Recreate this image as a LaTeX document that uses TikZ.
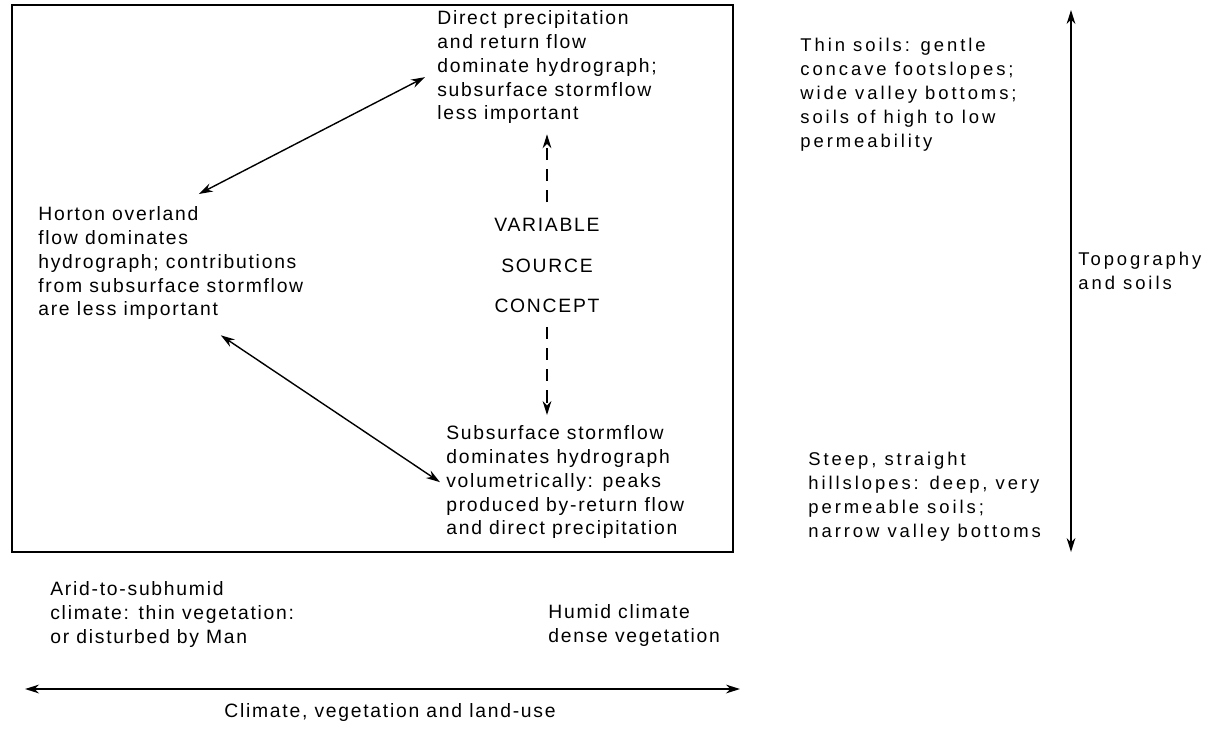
\documentclass[tikz,border=0pt]{standalone}
\usepackage{fontspec}
\setmainfont{Liberation Sans}
\newfontfamily\spreadfont[LetterSpace=9]{Liberation Sans}
\newfontfamily\wideletters[LetterSpace=16]{Liberation Sans}
\usepackage{tikz}
\usetikzlibrary{arrows.meta, calc}
\newcommand{\blurb}[5]{%
  \node[#1] (#2) at (#3, #4) {#5};%
}
\tikzset{
  boxtext/.style={anchor=north west, inner sep=0pt, align=left,
    font=\spreadfont\fontsize{11}{13.6}\selectfont},
  sidetext/.style={anchor=north west, inner sep=0pt, align=left,
    font=\wideletters\fontsize{10.5}{13.6}\selectfont},
  twoway/.style={{Stealth[length=8pt,width=5pt]}-{Stealth[length=8pt,width=5pt]},
    line width=0.8pt},
  dasharrow/.style={-{Stealth[length=8pt,width=5pt]}, line width=0.7pt,
    dash pattern=on 7pt off 5pt}
}

\begin{document}
\begin{tikzpicture}[x=0.02cm, y=-0.02cm]
\useasboundingbox (0,0) rectangle (1226,728);

% --- FRAME ---
\draw[line width=1.1pt] (12,5) rectangle (733,552);

% --- TEXT INSIDE THE FRAME ---
\blurb{boxtext}{direct}{437}{10}{Direct precipitation\\and return flow\\dominate hydrograph;\\subsurface stormflow\\less important}
\blurb{boxtext}{horton}{38}{206}{Horton overland\\flow dominates\\hydrograph; contributions\\from subsurface stormflow\\are less important}
\blurb{boxtext}{subsurf}{446}{425}{Subsurface stormflow\\dominates hydrograph\\volumetrically: peaks\\produced by-return flow\\and direct precipitation}

\foreach \nm/\yy/\word in {var/225/VARIABLE, src/266/SOURCE, con/306/CONCEPT}{
  \node[font=\spreadfont\fontsize{11}{13}\selectfont, inner sep=1pt]
    (\nm) at (547,\yy) {\word};
}

% --- CONNECTORS ---
\draw[twoway] ([xshift=0.56cm, yshift=0.24cm]horton.north)
  -- ([xshift=-0.24cm, yshift=-0.2cm]direct.west);
\draw[twoway] ([xshift=1.0cm, yshift=-0.3cm]horton.south)
  -- ([xshift=-0.12cm]subsurf.west);
\draw[dasharrow, shorten <=0.28cm, shorten >=0.2cm]
  (var.north) -- (var.north |- direct.south);
\draw[dasharrow, shorten <=0.24cm, shorten >=0.2cm]
  (con.south) -- (con.south |- subsurf.north);

% --- TOPOGRAPHY AXIS (right) ---
\blurb{sidetext}{thin}{800}{38}{Thin soils: gentle\\concave footslopes;\\wide valley bottoms;\\soils of high to low\\permeability}
\blurb{sidetext}{steep}{808}{452}{Steep, straight\\hillslopes: deep, very\\permeable soils;\\narrow valley bottoms}
\blurb{sidetext}{topo}{1078}{252}{Topography\\and soils}
\coordinate (vtop) at (1071,10);
\coordinate (vbot) at (1071,552);
\draw[twoway] (vtop) -- (vbot);

% --- CLIMATE AXIS (bottom) ---
\blurb{boxtext}{arid}{50}{581}{Arid-to-subhumid\\climate: thin vegetation:\\or disturbed by Man}
\blurb{boxtext}{humid}{548}{604}{Humid climate\\dense vegetation}
\coordinate (hleft) at (25,689);
\coordinate (hright) at (740,689);
\draw[twoway, line width=1.1pt] (hleft) -- (hright);
\node[font=\spreadfont\fontsize{11}{13}\selectfont, inner sep=0pt]
  (caption) at (390,712) {Climate, vegetation and land-use};

\end{tikzpicture}
\end{document}
